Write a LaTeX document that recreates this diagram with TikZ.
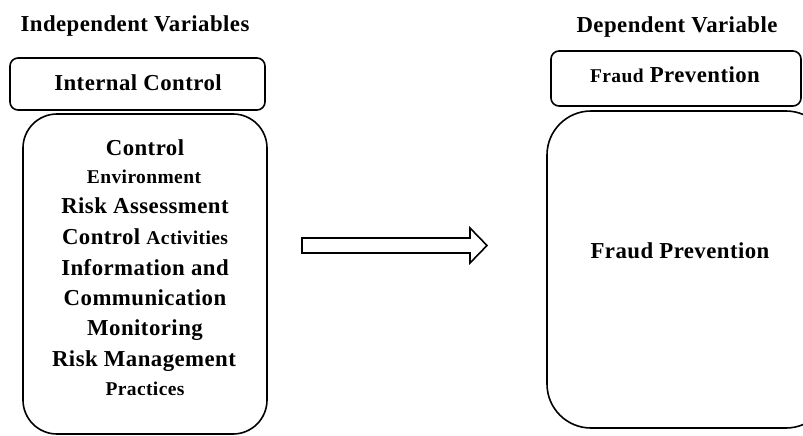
\documentclass[tikz,border=0pt]{standalone}
\usepackage{fontspec}
\setmainfont{Liberation Serif}[LetterSpace=2]
\newcommand{\bigT}{\fontsize{22.8}{24}\selectfont\bfseries}
\newcommand{\smT}{\fontsize{19.5}{20}\selectfont\bfseries}
\tikzset{
  box/.style={draw, line width=1.6pt, inner sep=0pt},
  lbl/.style={anchor=base, inner sep=0pt, font=\bigT},
  slbl/.style={anchor=base, inner sep=0pt, font=\smT},
}
\begin{document}
\begin{tikzpicture}[x=1pt,y=-1pt]
\clip (0,0) rectangle (803,436);
\fill[white] (0,0) rectangle (803,436);
% left side
\node[lbl] (iv) at (135,32) {Independent Variables};
\draw[box, rounded corners=8pt] (10,58) rectangle (265,110);
\node[lbl] (ic) at (138,90) {Internal Control};
\draw[box, rounded corners=34pt] (23,114) rectangle (267,434);
\node[lbl] (l1) at (145,155) {Control};
\node[slbl] (l2) at (144,183) {Environment};
\node[lbl] (l3) at (145,213) {Risk Assessment};
\node[lbl] (l4) at (145,244) {Control {\smT Activities}};
\node[lbl] (l5) at (145,275) {Information and};
\node[lbl] (l6) at (145,305) {Communication};
\node[lbl] (l7) at (145,335) {Monitoring};
\node[lbl] (l8) at (144,366) {Risk Management};
\node[slbl] (l9) at (145,395) {Practices};
% arrow
\draw[line width=1.6pt, line join=miter]
  (302,238) -- (470,238) -- (470,228) -- (487,245.5) -- (470,263) -- (470,253) -- (302,253) -- cycle;
% right side
\node[lbl] (dv) at (677,33) {Dependent Variable};
\draw[box, rounded corners=8pt] (551,51) rectangle (801,106);
\node[lbl] (fp1) at (675,82) {{\smT Fraud} Prevention};
\draw[box, rounded corners=44pt] (547,111) rectangle (830,428);
\node[lbl] (fp2) at (680,258) {Fraud Prevention};
\end{tikzpicture}
\end{document}
